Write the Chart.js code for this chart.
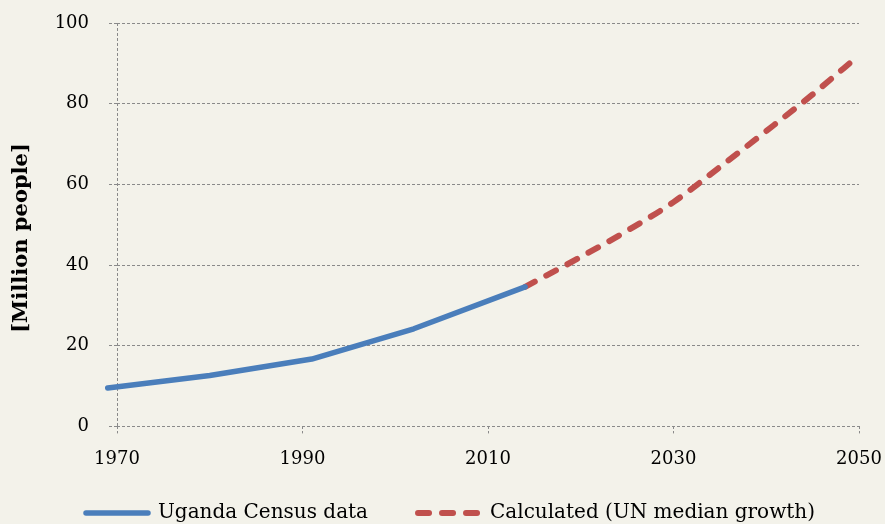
<!DOCTYPE html>
<html>
<head>
<meta charset="utf-8">
<script src="https://cdn.jsdelivr.net/npm/chart.js@4.4.1/dist/chart.umd.min.js"></script>
<style>
  html, body { margin: 0; padding: 0; background: #f3f2ea; }
  #wrap { width: 885px; height: 524px; position: relative; }
</style>
</head>
<body>
<div id="wrap"><canvas id="c" width="885" height="524"></canvas></div>
<script>
const censusYears = [1969, 1980, 1991, 2002, 2014];
const censusValues = [9.5, 12.6, 16.7, 24.2, 34.6];
const projYears = [2014, 2020, 2025, 2030, 2035, 2040, 2045, 2050];
const projValues = [34.6, 42.0, 48.5, 55.6, 64.3, 73.2, 82.3, 92.0];
const xTicks = [1970, 1990, 2010, 2030, 2050];
const yTicks = [0, 20, 40, 60, 80, 100];
const seriesNames = ['Uganda Census data', 'Calculated (UN median growth)'];
const yTitle = '[Million people]';

const GRID = '#8a8a8a';
const FONT = 'DejaVu Serif';
const LEGEND_CENTER_Y = 513;
const LEGEND_PAD = 50;
const LEGEND_FONT = 20;

const yTitlePlugin = {
  id: 'yTitlePlugin',
  afterDraw(chart) {
    const ctx = chart.ctx;
    ctx.save();
    ctx.translate(22, 238);
    ctx.rotate(-Math.PI / 2);
    ctx.font = 'bold 21px "' + FONT + '"';
    ctx.fillStyle = '#000';
    ctx.textAlign = 'center';
    ctx.textBaseline = 'middle';
    ctx.fillText(yTitle, 0, 0);
    ctx.restore();
  }
};

const legendShift = {
  id: 'legendShift',
  afterLayout(chart) {
    const lg = chart.legend;
    if (!lg) return;
    lg.top = LEGEND_CENTER_Y - LEGEND_FONT / 2 - LEGEND_PAD;
    lg.bottom = chart.height;
    lg.height = lg.bottom - lg.top;
  }
};

const bgPlugin = {
  id: 'bg',
  beforeDraw(chart) {
    const ctx = chart.ctx;
    ctx.save();
    ctx.fillStyle = '#f3f2ea';
    ctx.fillRect(0, 0, chart.width, chart.height);
    ctx.restore();
  }
};

new Chart(document.getElementById('c'), {
  type: 'line',
  data: {
    datasets: [
      {
        label: seriesNames[0],
        data: censusYears.map((y, i) => ({x: y, y: censusValues[i]})),
        borderColor: '#4a7ebb',
        backgroundColor: '#4a7ebb',
        borderWidth: 5.5,
        borderCapStyle: 'round',
        borderJoinStyle: 'round',
        pointRadius: 0,
        pointStyle: 'line',
        tension: 0,
        clip: false
      },
      {
        label: seriesNames[1],
        data: projYears.map((y, i) => ({x: y, y: projValues[i]})),
        borderColor: '#c0504d',
        backgroundColor: '#c0504d',
        borderWidth: 6,
        borderDash: [11, 13],
        borderCapStyle: 'round',
        pointRadius: 0,
        pointStyle: 'line',
        cubicInterpolationMode: 'monotone',
        clip: false
      }
    ]
  },
  options: {
    responsive: false,
    animation: false,
    layout: { padding: { left: 20, right: 4, top: 23, bottom: 12 } },
    plugins: {
      legend: {
        position: 'bottom',
        maxHeight: 27,
        labels: {
          usePointStyle: true,
          pointStyleWidth: 62,
          color: '#000',
          font: { family: FONT, size: LEGEND_FONT },
          padding: LEGEND_PAD,
          generateLabels(chart) {
            const items = Chart.defaults.plugins.legend.labels.generateLabels(chart);
            items.forEach((it) => {
              const ds = chart.data.datasets[it.datasetIndex];
              it.lineDash = ds.borderDash || [];
              it.lineCap = 'round';
              it.lineWidth = ds.borderWidth;
              it.strokeStyle = ds.borderColor;
              it.pointStyle = 'line';
            });
            return items;
          }
        }
      },
      tooltip: { enabled: false }
    },
    scales: {
      x: {
        type: 'linear',
        min: 1970,
        max: 2050,
        afterBuildTicks: (scale) => { scale.ticks = xTicks.map(v => ({value: v})); },
        afterFit: (scale) => { scale.paddingRight = 26; },
        ticks: {
          color: '#000',
          font: { family: FONT, size: 18 },
          padding: 15,
          maxRotation: 0,
          callback: (v) => String(v)
        },
        grid: {
          color: (c) => (c.tick && c.tick.value === 1970) ? GRID : 'rgba(0,0,0,0)',
          tickColor: GRID,
          tickLength: 7,
          lineWidth: 1,
          tickBorderDash: [3, 2]
        },
        border: { display: false, dash: [3, 2] }
      },
      y: {
        min: 0,
        max: 100,
        afterBuildTicks: (scale) => { scale.ticks = yTicks.map(v => ({value: v})); },
        afterFit: (scale) => { scale.width = 97; scale.paddingTop = 0; scale.paddingBottom = 0; },
        ticks: {
          color: '#000',
          font: { family: FONT, size: 18 },
          padding: 20,
          callback: (v) => String(v)
        },
        grid: {
          color: GRID,
          tickColor: GRID,
          tickLength: 8,
          lineWidth: 1,
          tickBorderDash: [3, 2]
        },
        border: { display: false, dash: [3, 2] }
      }
    }
  },
  plugins: [bgPlugin, yTitlePlugin, legendShift]
});
</script>
</body>
</html>
